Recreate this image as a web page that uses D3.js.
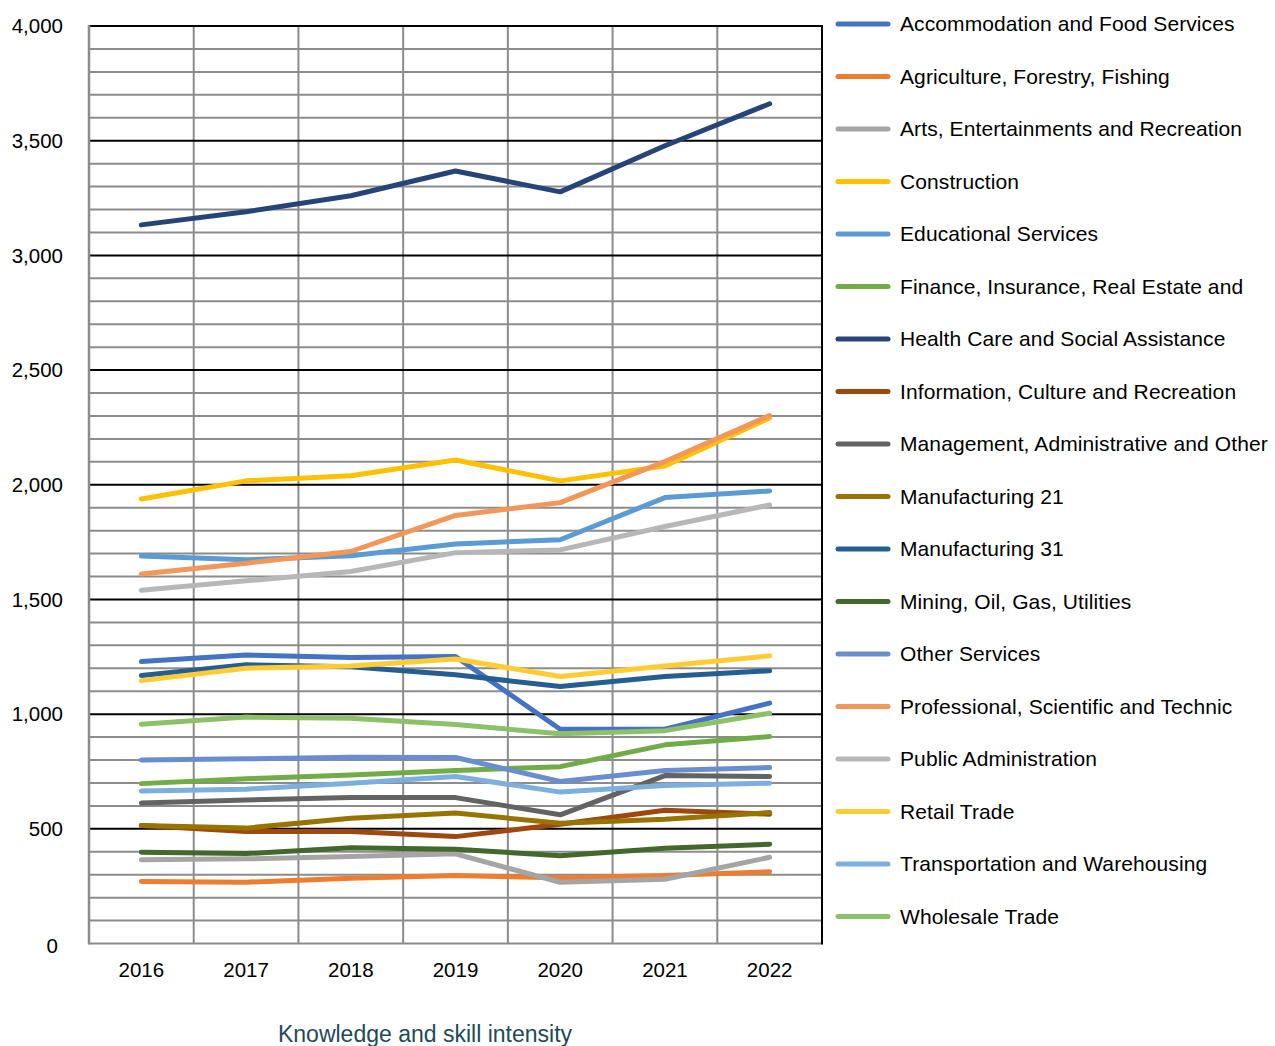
<!DOCTYPE html>
<html>
<head>
<meta charset="utf-8">
<script src="https://cdn.jsdelivr.net/npm/d3@7/dist/d3.min.js"></script>
<style>
  body { margin: 0; background: #fff; }
  svg { display: block; }
  text { font-family: "Liberation Sans", Arial, sans-serif; }
</style>
</head>
<body>
<svg id="chart" width="1275" height="1046"></svg>
<script>
const years = ["2016", "2017", "2018", "2019", "2020", "2021", "2022"];
const yTicks = [0, 500, 1000, 1500, 2000, 2500, 3000, 3500, 4000];

const seriesNames = [
  "Accommodation and Food Services",
  "Agriculture, Forestry, Fishing",
  "Arts, Entertainments and Recreation",
  "Construction",
  "Educational Services",
  "Finance, Insurance, Real Estate and",
  "Health Care and Social Assistance",
  "Information, Culture and Recreation",
  "Management, Administrative and Other",
  "Manufacturing 21",
  "Manufacturing 31",
  "Mining, Oil, Gas, Utilities",
  "Other Services",
  "Professional, Scientific and Technic",
  "Public Administration",
  "Retail Trade",
  "Transportation and Warehousing",
  "Wholesale Trade"
];

const accommodation  = [1229, 1258, 1247, 1251, 934, 934, 1048];
const agriculture    = [270, 267, 285, 296, 287, 296, 313];
const arts           = [365, 369, 379, 391, 267, 280, 376];
const construction   = [1938, 2017, 2039, 2108, 2017, 2082, 2291];
const educational    = [1689, 1673, 1690, 1742, 1760, 1944, 1973];
const finance        = [697, 718, 735, 754, 771, 866, 902];
const healthCare     = [3133, 3190, 3260, 3368, 3277, 3478, 3661];
const information    = [514, 488, 488, 466, 520, 581, 564];
const management     = [613, 626, 636, 636, 561, 732, 728];
const manufacturing21 = [514, 503, 546, 569, 524, 542, 571];
const manufacturing31 = [1168, 1215, 1207, 1172, 1120, 1164, 1189];
const mining         = [398, 392, 417, 411, 383, 415, 433];
const otherServices  = [800, 805, 812, 811, 706, 754, 767];
const professional   = [1611, 1658, 1709, 1866, 1922, 2101, 2302];
const publicAdmin    = [1540, 1581, 1622, 1704, 1716, 1818, 1912];
const retail         = [1146, 1200, 1210, 1240, 1164, 1210, 1254];
const transportation = [665, 673, 699, 728, 660, 689, 699];
const wholesale      = [956, 987, 982, 955, 914, 928, 1004];

const seriesValues = [accommodation, agriculture, arts, construction, educational, finance,
  healthCare, information, management, manufacturing21, manufacturing31, mining,
  otherServices, professional, publicAdmin, retail, transportation, wholesale];

const colors = ["#4472C4", "#ED7D31", "#A5A5A5", "#FFC000", "#5B9BD5", "#70AD47",
  "#264478", "#9E480E", "#636363", "#997300", "#255E91", "#43682B",
  "#698ED0", "#F1975A", "#B7B7B7", "#FFCD33", "#7CAFDD", "#8CC168"];

const chartTitle = "Knowledge and skill intensity";

(function () {
const svg = d3.select("#chart");
const pLeft = 89, pRight = 822, pTop = 26, pBottom = 943.5;

const x = d3.scaleBand().domain(years).range([pLeft, pRight]).padding(0);
const y = d3.scaleLinear().domain([0, 4000]).range([pBottom, pTop]);

const g = svg.append("g");

// minor horizontal gridlines (every 100)
const minor = d3.range(0, 4001, 100).filter(v => v % 500 !== 0 || v === 0);
g.selectAll(".minor").data(minor).enter().append("line")
  .attr("x1", pLeft).attr("x2", pRight)
  .attr("y1", d => y(d)).attr("y2", d => y(d))
  .attr("stroke", "#8c8c8c").attr("stroke-width", 2);

// vertical gridlines at band boundaries
const bounds = years.map(d => x(d)).concat([pRight]);
g.selectAll(".vgrid").data(bounds.slice(1, -1)).enter().append("line")
  .attr("x1", d => d).attr("x2", d => d)
  .attr("y1", pTop).attr("y2", pBottom)
  .attr("stroke", "#8c8c8c").attr("stroke-width", 2);

// major horizontal gridlines
g.selectAll(".major").data(yTicks.filter(v => v > 0)).enter().append("line")
  .attr("x1", pLeft).attr("x2", pRight)
  .attr("y1", d => y(d)).attr("y2", d => y(d))
  .attr("stroke", "#000").attr("stroke-width", 2);

// left axis (gray) and right border (black)
g.append("line").attr("x1", pLeft).attr("x2", pLeft).attr("y1", pTop - 1).attr("y2", pBottom + 1)
  .attr("stroke", "#8c8c8c").attr("stroke-width", 2.5);
g.append("line").attr("x1", pRight).attr("x2", pRight).attr("y1", pTop - 1).attr("y2", pBottom + 1)
  .attr("stroke", "#000").attr("stroke-width", 2);

// y axis labels
const yAxis = d3.axisLeft(y).tickValues(yTicks).tickFormat(d3.format(",")).tickSize(0).tickPadding(0);
const ya = svg.append("g").attr("transform", "translate(63,0)").call(yAxis);
ya.select(".domain").remove();
ya.selectAll("text").attr("font-size", 20.5).attr("fill", "#000")
  .attr("font-family", "'Liberation Sans', Arial, sans-serif")
  .attr("dy", "0.33em")
  .attr("transform", d => d === 0 ? "translate(-5,2)" : null);

// x axis labels
const xAxis = d3.axisBottom(x).tickSize(0).tickPadding(0);
const xa = svg.append("g").attr("transform", "translate(0,962)").call(xAxis);
xa.select(".domain").remove();
xa.selectAll("text").attr("font-size", 20.5).attr("fill", "#000")
  .attr("font-family", "'Liberation Sans', Arial, sans-serif").attr("dy", "0.75em");

// lines
const line = d3.line()
  .x((d, i) => x(years[i]) + x.bandwidth() / 2)
  .y(d => y(d));

svg.append("g").selectAll("path").data(seriesValues).enter().append("path")
  .attr("d", d => line(d))
  .attr("fill", "none")
  .attr("stroke", (d, i) => colors[i])
  .attr("stroke-width", 5)
  .attr("stroke-linejoin", "round")
  .attr("stroke-linecap", "round");

// legend
const leg = svg.append("g").attr("transform", "translate(838,24)");
const items = leg.selectAll("g").data(seriesNames).enter().append("g")
  .attr("transform", (d, i) => `translate(0,${i * 52.5})`);
items.append("line").attr("x1", 0).attr("x2", 50).attr("y1", 0).attr("y2", 0)
  .attr("stroke", (d, i) => colors[i]).attr("stroke-width", 5).attr("stroke-linecap", "round");
items.append("text").attr("x", 62).attr("y", 0).attr("dy", "0.35em")
  .attr("font-size", 21).attr("letter-spacing", 0.1).attr("fill", "#000").text(d => d);

// title at bottom
svg.append("text").attr("x", 425).attr("y", 1042).attr("text-anchor", "middle")
  .attr("font-family", "'Open Sans', 'Noto Sans', sans-serif")
  .attr("font-size", 23).attr("fill", "#1d4b57").text(chartTitle);
})();
</script>
</body>
</html>
